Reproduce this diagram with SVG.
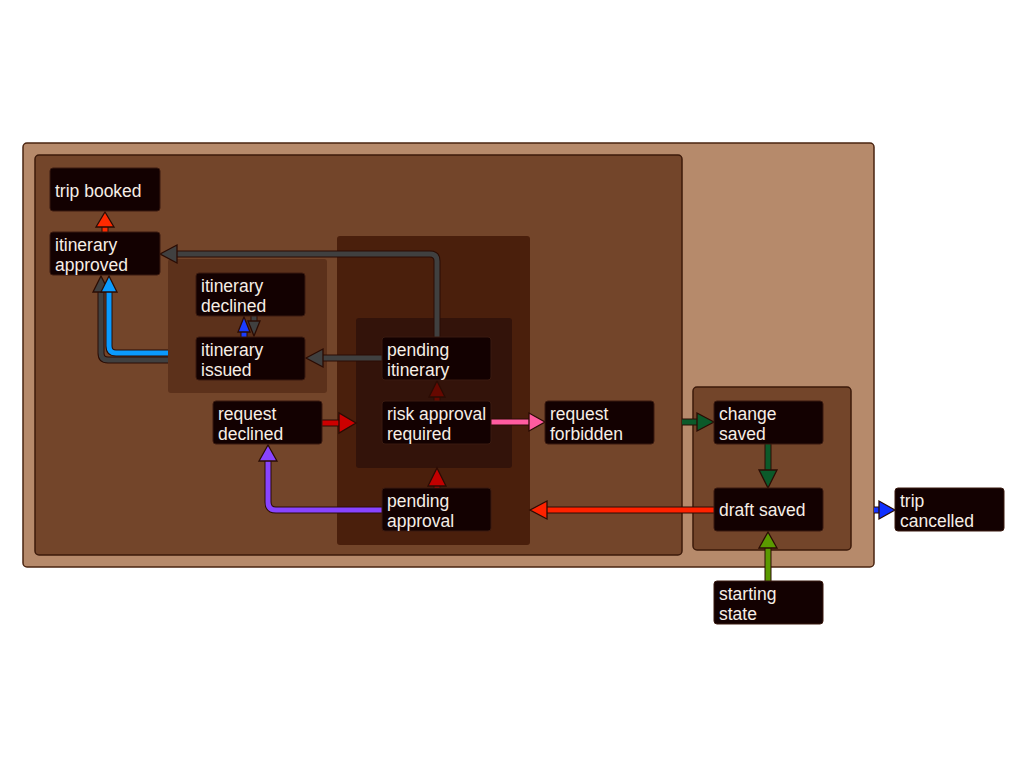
<svg xmlns="http://www.w3.org/2000/svg" width="1024" height="768" viewBox="0 0 1024 768">
<style>
.cl{stroke-width:1.5}
.n rect{fill:#130101;stroke:#3a1a10;stroke-width:1}
.n text{font-family:"Liberation Sans",Arial,sans-serif;font-size:17.5px;fill:#f6eee6}
.k{fill:none;stroke:#2a0c04;stroke-width:7;stroke-linejoin:round}
.l{fill:none;stroke-width:5;stroke-linejoin:round}
.h{stroke:#2a0c04;stroke-width:1.3;stroke-linejoin:miter}
</style>
<rect width="1024" height="768" fill="#ffffff"/>
<g id="clusters">
<rect id="cl-trip" class="cl" x="23" y="143" width="851" height="424" rx="4" fill="#b68a6b" stroke="#4a2410"/>
<rect id="cl-request" class="cl" x="35" y="155" width="647" height="400" rx="4" fill="#73452a" stroke="#3c1a0a"/>
<rect id="cl-itinerary" x="168" y="259" width="159" height="134" rx="3" fill="#5c311b"/>
<rect id="cl-approval" x="337" y="236" width="193" height="309" rx="3" fill="#4a1f0c"/>
<rect id="cl-risk" x="356" y="318" width="156" height="150" rx="3" fill="#33130a"/>
<rect id="cl-draft" class="cl" x="693" y="387" width="158" height="163" rx="4" fill="#73452a" stroke="#3c1a0a"/>
</g>
<g id="connectors">
<!-- itinerary approved -> trip booked -->
<path class="k" d="M105,232V226"/><path class="l" stroke="#ff2a00" d="M105,232V226"/>
<polygon class="h" fill="#ff2a00" points="105,212 114,227 96,227"/>
<!-- pending itinerary -> itinerary approved -->
<path class="k" d="M437,337V261Q437,254 430,254H176"/><path class="l" stroke="#404040" d="M437,337V261Q437,254 430,254H176"/>
<polygon class="h" fill="#404040" points="160,254 177,245 177,263"/>
<!-- itinerary issued -> itinerary approved (gray) -->
<path class="k" d="M168,360H108Q101,360 101,353V291"/><path class="l" stroke="#404040" d="M168,360H108Q101,360 101,353V291"/>
<polygon class="h" fill="#404040" points="101,276 109,292 93,292"/>
<!-- itinerary issued -> itinerary approved (blue) -->
<path class="k" d="M168,353H116Q109,353 109,346V291"/><path class="l" stroke="#0a9bff" d="M168,353H116Q109,353 109,346V291"/>
<polygon class="h" fill="#0a9bff" points="109,276 117,292 101,292"/>
<!-- itinerary issued -> itinerary declined -->
<path class="k" d="M244,337V331"/><path class="l" stroke="#1a3cff" d="M244,337V331"/>
<polygon class="h" fill="#1a3cff" points="244,317 250,332 238,332"/>
<!-- itinerary declined -> itinerary issued -->
<path class="k" d="M254,316V322"/><path class="l" stroke="#404040" d="M254,316V322"/>
<polygon class="h" fill="#404040" points="254,336 260,321 248,321"/>
<!-- pending itinerary -> itinerary issued -->
<path class="k" d="M382,358H322"/><path class="l" stroke="#404040" d="M382,358H322"/>
<polygon class="h" fill="#404040" points="306,358 323,349 323,367"/>
<!-- risk approval required -> pending itinerary -->
<path class="k" d="M437,401V396"/><path class="l" stroke="#660800" d="M437,401V396"/>
<polygon class="h" fill="#660800" points="437,381 445,397 429,397"/>
<!-- pending approval -> risk cluster -->
<path class="k" d="M437,488V484"/><path class="l" stroke="#c20000" d="M437,488V484"/>
<polygon class="h" fill="#c20000" points="437,468 446,486 428,486"/>
<!-- request declined -> risk cluster -->
<path class="k" d="M322,423H339"/><path class="l" stroke="#cc0000" d="M322,423H339"/>
<polygon class="h" fill="#cc0000" points="356,423 339,413 339,433"/>
<!-- risk approval required -> request forbidden -->
<path class="k" d="M491,422H529"/><path class="l" stroke="#ff5ca0" d="M491,422H529"/>
<polygon class="h" fill="#ff5ca0" points="545,422 529,413 529,431"/>
<!-- request cluster -> change saved -->
<path class="k" d="M682,422H698"/><path class="l" stroke="#0b5a2a" d="M682,422H698"/>
<polygon class="h" fill="#0b5a2a" points="714,422 697,413 697,431"/>
<!-- change saved -> draft saved -->
<path class="k" d="M768,444V471"/><path class="l" stroke="#0b5a2a" d="M768,444V471"/>
<polygon class="h" fill="#0b5a2a" points="768,488 777,470 759,470"/>
<!-- draft saved -> approval cluster -->
<path class="k" d="M714,510H546"/><path class="l" stroke="#ff2200" d="M714,510H546"/>
<polygon class="h" fill="#ff2200" points="530,510 547,501 547,519"/>
<!-- pending approval -> request declined -->
<path class="k" d="M382,510H276Q268,510 268,502V460"/><path class="l" stroke="#8844ff" d="M382,510H276Q268,510 268,502V460"/>
<polygon class="h" fill="#8844ff" points="268,445 277,461 259,461"/>
<!-- starting state -> draft saved -->
<path class="k" d="M768,581V547"/><path class="l" stroke="#5a9a00" d="M768,581V547"/>
<polygon class="h" fill="#5a9a00" points="768,532 777,548 759,548"/>
<!-- trip cluster -> trip cancelled -->
<path class="k" d="M874,510H880"/><path class="l" stroke="#1030ff" d="M874,510H880"/>
<polygon class="h" fill="#1030ff" points="895,510 879,501 879,519"/>
</g>
<g id="n-trip-booked" class="n"><rect x="50" y="168" width="110" height="43" rx="3"/><text x="55" y="197">trip booked</text></g>
<g id="n-itinerary-approved" class="n"><rect x="50" y="232" width="110" height="43" rx="3"/><text x="55" y="251">itinerary</text><text x="55" y="271">approved</text></g>
<g id="n-itinerary-declined" class="n"><rect x="196" y="273" width="109" height="43" rx="3"/><text x="201" y="292">itinerary</text><text x="201" y="312">declined</text></g>
<g id="n-itinerary-issued" class="n"><rect x="196" y="337" width="109" height="43" rx="3"/><text x="201" y="356">itinerary</text><text x="201" y="376">issued</text></g>
<g id="n-pending-itinerary" class="n"><rect x="382" y="337" width="109" height="43" rx="3"/><text x="387" y="356">pending</text><text x="387" y="376">itinerary</text></g>
<g id="n-request-declined" class="n"><rect x="213" y="401" width="109" height="43" rx="3"/><text x="218" y="420">request</text><text x="218" y="440">declined</text></g>
<g id="n-risk-approval-required" class="n"><rect x="382" y="401" width="109" height="43" rx="3"/><text x="387" y="420">risk approval</text><text x="387" y="440">required</text></g>
<g id="n-request-forbidden" class="n"><rect x="545" y="401" width="109" height="43" rx="3"/><text x="550" y="420">request</text><text x="550" y="440">forbidden</text></g>
<g id="n-pending-approval" class="n"><rect x="382" y="488" width="109" height="43" rx="3"/><text x="387" y="507">pending</text><text x="387" y="527">approval</text></g>
<g id="n-change-saved" class="n"><rect x="714" y="401" width="109" height="43" rx="3"/><text x="719" y="420">change</text><text x="719" y="440">saved</text></g>
<g id="n-draft-saved" class="n"><rect x="714" y="488" width="109" height="43" rx="3"/><text x="719" y="516">draft saved</text></g>
<g id="n-trip-cancelled" class="n"><rect x="895" y="488" width="109" height="43" rx="3"/><text x="900" y="507">trip</text><text x="900" y="527">cancelled</text></g>
<g id="n-starting-state" class="n"><rect x="714" y="581" width="109" height="43" rx="3"/><text x="719" y="600">starting</text><text x="719" y="620">state</text></g>
</svg>
